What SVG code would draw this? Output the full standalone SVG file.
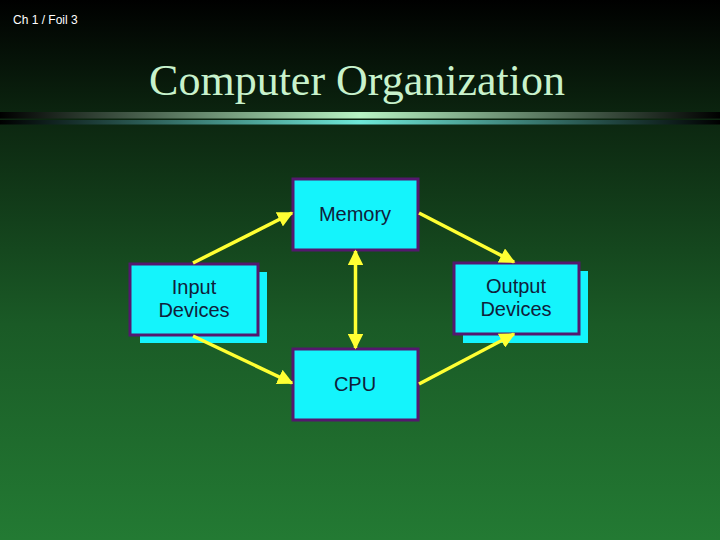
<svg xmlns="http://www.w3.org/2000/svg" width="720" height="540" viewBox="0 0 720 540">
<defs>
<linearGradient id="bg" x1="0" y1="0" x2="0" y2="1">
<stop offset="0" stop-color="#000000"/>
<stop offset="0.22" stop-color="#0c2610"/>
<stop offset="0.6" stop-color="#1a5a26"/>
<stop offset="1" stop-color="#237a33"/>
</linearGradient>
<linearGradient id="band1" x1="0" y1="0" x2="1" y2="0">
<stop offset="0" stop-color="#000000"/>
<stop offset="0.5" stop-color="#b8f4c4"/>
<stop offset="1" stop-color="#000000"/>
</linearGradient>
<linearGradient id="band2" x1="0" y1="0" x2="1" y2="0">
<stop offset="0" stop-color="#000000"/>
<stop offset="0.5" stop-color="#6ee8d8"/>
<stop offset="1" stop-color="#000000"/>
</linearGradient>
<marker id="ah" viewBox="0 0 10 10" refX="9" refY="5" markerWidth="4.5" markerHeight="4.5" orient="auto-start-reverse" markerUnits="strokeWidth">
<path d="M0,0 L10,5 L0,10 z" fill="#ffff33"/>
</marker>
<style>
.box{fill:#14f4fc;stroke:#54186e;stroke-width:3}
.shadow{fill:#14f4fc}
.lbl{font-family:"Liberation Sans",Arial,sans-serif;font-size:20px;fill:#10203a;text-anchor:middle}
.conn{stroke:#ffff33;stroke-width:3.5;fill:none}
</style>
</defs>
<rect x="0" y="0" width="720" height="540" fill="url(#bg)"/>
<text x="13" y="24" font-family="Liberation Sans, Arial, sans-serif" font-size="12" fill="#ffffff">Ch 1 / Foil 3</text>
<text x="357" y="95" font-family="Liberation Serif, Times New Roman, serif" font-size="44" fill="#c8f2cc" text-anchor="middle">Computer Organization</text>
<rect x="0" y="112" width="720" height="6.5" fill="url(#band1)"/>
<rect x="0" y="120" width="720" height="4.5" fill="url(#band2)"/>

<g id="input">
<rect class="shadow" x="140" y="272" width="127" height="71"/>
<rect class="box" x="130" y="264" width="128" height="71"/>
<text class="lbl" x="194" y="294">Input</text>
<text class="lbl" x="194" y="317">Devices</text>
</g>
<g id="output">
<rect class="shadow" x="463" y="271" width="125" height="72"/>
<rect class="box" x="454" y="263" width="125" height="71"/>
<text class="lbl" x="516" y="293">Output</text>
<text class="lbl" x="516" y="316">Devices</text>
</g>
<g id="memory">
<rect class="box" x="293" y="179" width="125" height="71"/>
<text class="lbl" x="355" y="221">Memory</text>
</g>
<g id="cpu">
<rect class="box" x="293" y="349" width="125" height="71"/>
<text class="lbl" x="355" y="391">CPU</text>
</g>
<g id="connectors">
<line class="conn" x1="193" y1="263" x2="292" y2="213" marker-end="url(#ah)"/>
<line class="conn" x1="419" y1="213" x2="514" y2="262" marker-end="url(#ah)"/>
<line class="conn" x1="193" y1="336" x2="292" y2="383" marker-end="url(#ah)"/>
<line class="conn" x1="419" y1="384" x2="514" y2="334" marker-end="url(#ah)"/>
<line class="conn" x1="355.5" y1="251" x2="355.5" y2="348" marker-start="url(#ah)" marker-end="url(#ah)"/>
</g>
</svg>
